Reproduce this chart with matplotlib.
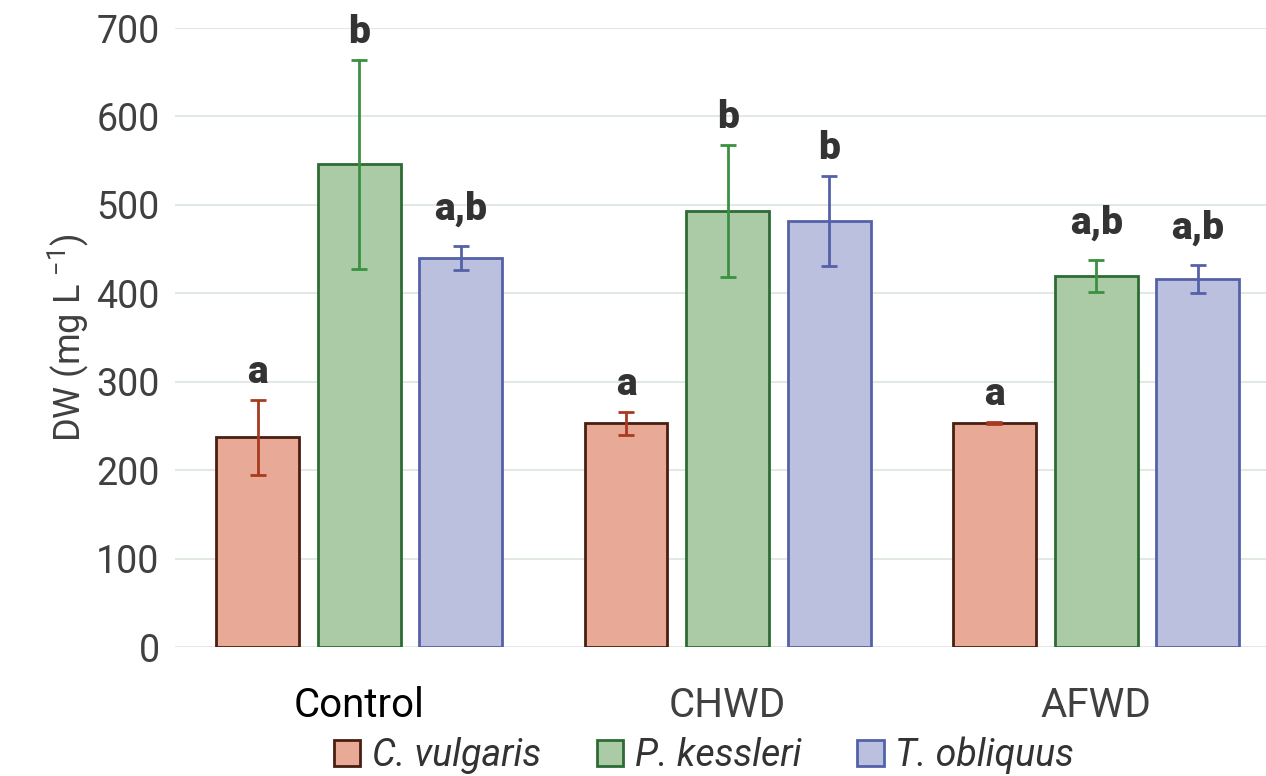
import numpy as np
import matplotlib.pyplot as plt
from matplotlib.patches import Patch

plt.rcParams['font.family'] = ['Roboto', 'DejaVu Sans']
plt.rcParams['mathtext.default'] = 'regular'

# datos
grupos = ['Control', 'CHWD', 'AFWD']
especies = ['C. vulgaris', 'P. kessleri', 'T. obliquus']
medias = {
    'C. vulgaris': [237, 253, 253],
    'P. kessleri': [546, 493, 420],
    'T. obliquus': [440, 482, 416],
}
errores = {
    'C. vulgaris': [42, 13, 1],
    'P. kessleri': [118, 75, 18],
    'T. obliquus': [14, 51, 16],
}
letras = {
    'C. vulgaris': ['a', 'a', 'a'],
    'P. kessleri': ['b', 'b', 'a,b'],
    'T. obliquus': ['a,b', 'b', 'a,b'],
}

relleno = ['#E8A996', '#ABCBA7', '#BAC0DE']
borde = ['#4A1E10', '#2E6B34', '#5461A8']
color_err = ['#A83A20', '#3A9040', '#5461A8']

fig = plt.figure(figsize=(12.66, 7.76), dpi=100)
ax = fig.add_axes([0.1382, 0.1662, 0.8732, 0.7977])

x = np.arange(len(grupos))
ancho = 0.225
paso = 0.276
for i, esp in enumerate(especies):
    xi = x + (i - 1) * paso
    ax.bar(xi, medias[esp], ancho, color=relleno[i], edgecolor=borde[i],
           linewidth=2, zorder=2)
    ax.errorbar(xi, medias[esp], yerr=errores[esp], fmt='none',
                ecolor=color_err[i], elinewidth=2, capsize=6, capthick=2,
                zorder=3)
    for j in range(len(grupos)):
        tope = medias[esp][j] + errores[esp][j]
        extra = 9 if ',' in letras[esp][j] else 0
        ax.annotate(letras[esp][j], (xi[j], tope), xytext=(0, 17 + extra),
                    textcoords='offset pixels', ha='center', va='baseline',
                    fontsize=28, fontweight='heavy', color='#333333',
                    annotation_clip=False)

ax.set_xlim(-0.5, 2.5)
ax.set_ylim(0, 700)
ax.set_yticks(range(0, 701, 100))
ax.yaxis.grid(True, color='#E1EAE1', linewidth=1.5, zorder=0)
ax.set_axisbelow(True)
for s in ax.spines.values():
    s.set_visible(False)
ax.tick_params(axis='both', length=0, labelsize=27, colors='#404040')
ax.tick_params(axis='y', pad=11)
ax.tick_params(axis='x', pad=28, labelsize=29)
ax.set_xticks(x)
ax.set_xticklabels(grupos)
ax.get_xticklabels()[0].set_color('black')
ax.set_ylabel('DW (mg L $^{-1}$)', fontsize=26, color='#404040', labelpad=4)

manijas = [Patch(facecolor=relleno[i], edgecolor=borde[i], linewidth=2,
                 label=especies[i]) for i in range(3)]
fig.legend(handles=manijas, loc='center', bbox_to_anchor=(0.556, 0.027),
           ncol=3, frameon=False, prop={'size': 27, 'style': 'italic'},
           handlelength=0.7, handleheight=0.7, handletextpad=0.3,
           columnspacing=1.5, labelcolor='#333333')

fig.savefig('out.png', dpi=100)
